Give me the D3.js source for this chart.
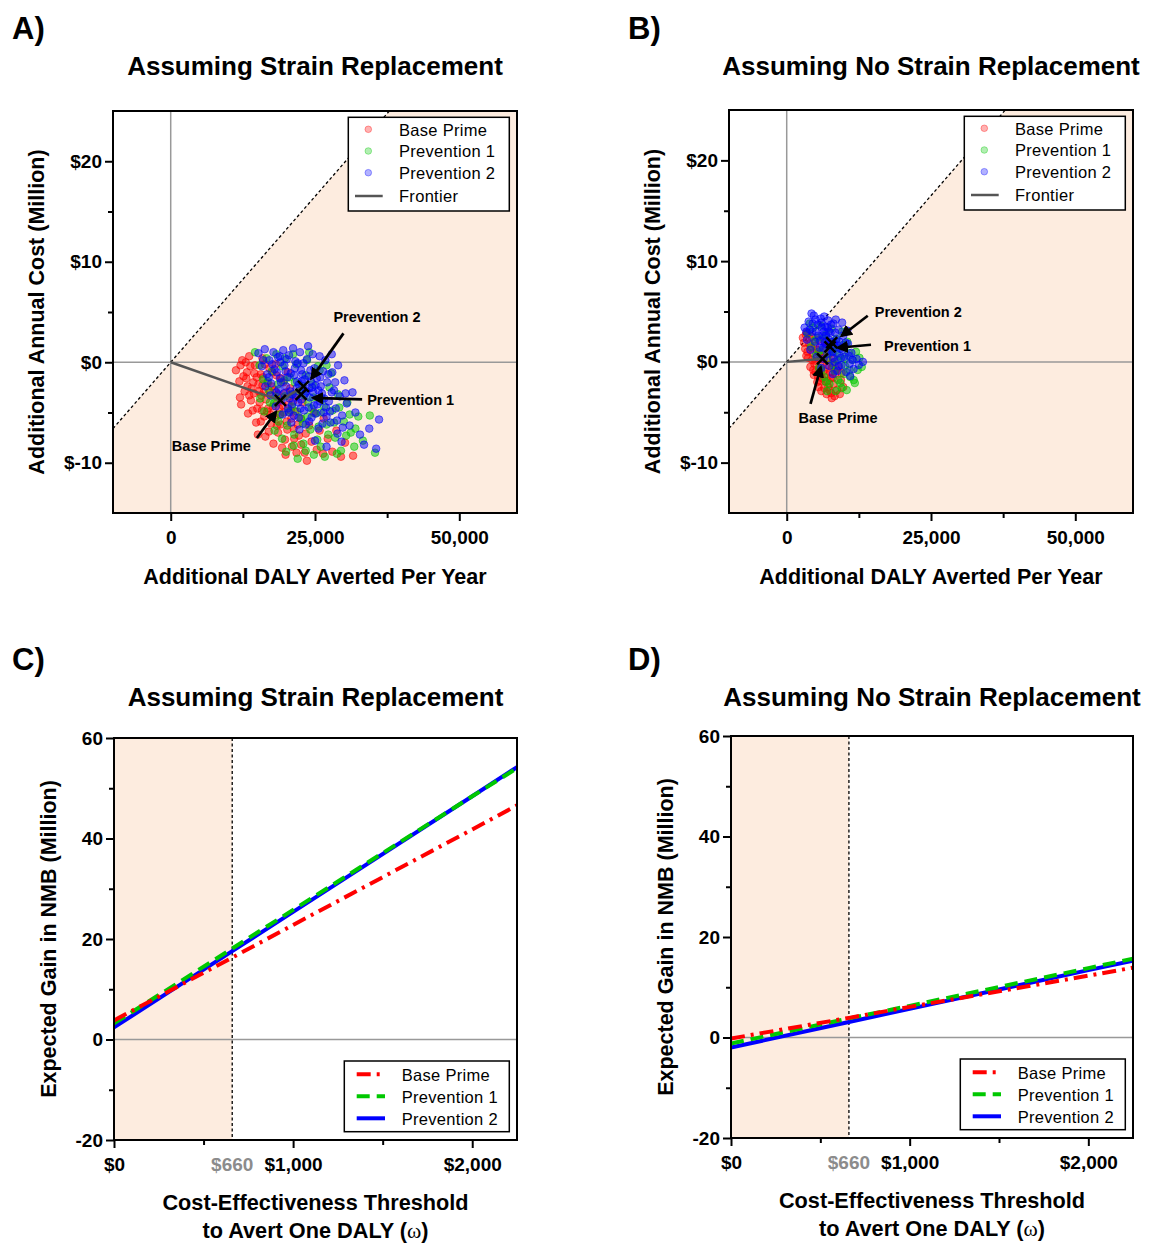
<!DOCTYPE html>
<html>
<head>
<meta charset="utf-8">
<script src="https://cdn.jsdelivr.net/npm/d3@7"></script>
<style>
  body { margin: 0; background: #fff; }
  text { font-family: Arial, "Liberation Sans", sans-serif; }
</style>
</head>
<body>
<div id="chart"></div>
<script>
// ---- data ----
const seriesNames = ["Base Prime", "Prevention 1", "Prevention 2"];
const threshold = 660; // $ per DALY averted

const dalyTicks = [0, 25, 50];        // thousands of DALY
const dalyMinor = [12.5, 37.5];
const costTicks = [-10, 0, 10, 20];   // $ million
const costMinor = [-5, 5, 15];
const omegaTicks = [0, 1000, 2000];
const omegaMinor = [500, 1500];
const nmbTicks = [-20, 0, 20, 40, 60];
const nmbMinor = [-10, 10, 30, 50];

// scatter clouds: [DALY averted (thousands), additional cost ($M)]
const cloudA_base = [[11.3,-0.8],[11.9,-1.9],[12.4,0.2],[12.8,-2.9],[13.2,-1.0],[13.6,0.6],[13.9,-3.8],[14.3,-2.0],[14.6,-0.3],[15.0,-4.6],
  [15.3,-2.9],[15.6,-1.2],[15.9,0.4],[16.2,-5.4],[16.5,-3.7],[16.8,-2.1],[17.1,-0.6],[17.4,-6.1],[17.7,-4.4],[18.0,-2.8],
  [18.3,-1.3],[18.6,-7.0],[18.9,-5.2],[19.2,-3.5],[19.5,-2.0],[19.8,-7.7],[20.1,-5.9],[20.4,-4.2],[20.7,-2.6],[21.0,-8.4],
  [21.3,-6.6],[21.6,-4.9],[21.9,-3.3],[22.2,-7.3],[22.5,-5.6],[22.8,-4.0],[23.2,-9.0],[23.6,-9.8],[24.0,-6.3],[24.4,-7.9],
  [24.8,-5.0],[25.3,-8.7],[25.8,-6.8],[26.4,-9.1],[27.2,-7.6],[28.0,-8.9],[29.5,-9.4],[31.6,-9.3],[16.4,-7.4],[14.8,-6.0],
  [13.4,-5.1],[12.2,-4.2],[17.8,-8.1],[19.9,-9.2],[18.2,-0.2],[20.3,-1.0],[15.1,-7.2],[21.8,-9.0],[12.0,-3.5],[26.5,-5.6],
  [28.7,-6.8],[30.2,-8.0],[14.0,-2.6],[15.7,-3.3],[16.9,-4.6],[17.5,-2.4],[18.5,-4.0],[19.0,-6.2],[20.0,-3.0],[13.1,-1.6],
  [12.6,-1.4],[13.3,-2.4],[13.8,-0.4],[14.4,-3.1],[14.9,-1.5],[15.4,-4.0],[15.9,-2.3],[16.3,-0.2],[16.7,-4.9],[17.2,-3.0],
  [17.6,-1.0],[18.1,-5.5],[18.6,-3.2],[19.1,-1.6],[19.6,-5.0],[20.2,-6.7],[20.8,-4.8],[21.4,-7.6],[22.0,-6.2],[22.6,-8.2],
  [23.4,-7.1],[19.3,-8.5],[17.0,-6.9],[15.6,-5.9],[14.2,-4.8],[13.0,0.0],[12.1,-0.3],[16.1,-3.0],[18.8,-4.6],[20.5,-3.4],
  [14.5,-1.1],[15.2,-2.2],[16.0,-1.5],[17.3,-5.2],[18.4,-6.3],[19.4,-4.3],[20.9,-5.6],[21.2,-3.9],[13.6,-3.3],[15.8,-4.8]];
const cloudA_prev1 = [[14.6,1.0],[15.4,-0.3],[16.0,-1.7],[16.6,0.4],[17.0,-2.8],[17.5,-0.9],[17.9,-4.1],[18.3,0.8],[18.6,-2.2],[19.0,-5.2],
  [19.4,-0.4],[19.8,-3.4],[20.2,-6.3],[20.6,-1.5],[21.0,-4.4],[21.4,-7.2],[21.8,-0.2],[22.2,-2.9],[22.6,-5.6],[23.0,-8.1],
  [23.4,-1.3],[23.8,-4.0],[24.2,-6.7],[24.6,-2.2],[25.0,-5.1],[25.4,-7.7],[25.8,-0.8],[26.2,-3.6],[26.7,-9.4],[27.0,-6.2],
  [27.5,-2.5],[28.0,-4.8],[28.5,-7.5],[29.0,-3.2],[29.5,-8.8],[30.0,-5.9],[30.6,-4.0],[31.2,-7.0],[31.8,-8.4],[32.5,-5.4],
  [33.3,-7.8],[34.5,-5.3],[35.4,-9.0],[20.0,-8.9],[22.0,-9.6],[24.8,-9.2],[18.0,-6.8],[16.2,-4.9],[15.5,-3.6],[21.2,0.8],
  [23.6,0.2],[25.5,-0.4],[27.8,-1.1],[19.3,-7.6],[21.5,-2.0],[23.1,-3.3],[24.4,-4.6],[26.0,-5.0],[20.4,-4.9],[22.9,-6.1],
  [16.8,-1.9],[18.2,-3.4],[19.7,-1.8],[20.9,-3.2],[21.9,-4.9],[22.8,-2.4],[23.7,-5.4],[24.7,-3.5],[25.6,-6.4],[26.6,-4.4],
  [27.3,-7.2],[28.3,-6.0],[29.2,-4.5],[30.4,-7.3],[32.0,-6.6],[26.0,-8.4],[23.4,-8.8],[21.3,-8.3],[18.7,-5.9],[17.2,-4.0],
  [28.8,-9.1],[31.0,-5.2],[27.0,-0.3],[24.0,1.0],[19.8,0.4]];
const cloudA_prev2 = [[15.2,0.9],[15.8,-0.4],[16.3,1.3],[16.7,-1.2],[17.1,0.2],[17.4,-2.1],[17.8,1.0],[18.0,-0.7],[18.3,-3.0],[18.6,0.5],
  [18.9,-1.6],[19.2,-3.8],[19.5,1.2],[19.7,-0.3],[20.0,-2.4],[20.3,-4.6],[20.5,0.7],[20.8,-1.1],[21.1,-3.2],[21.3,-5.3],
  [21.6,0.1],[21.9,-1.9],[22.1,-4.0],[22.4,1.0],[22.6,-0.8],[22.9,-2.7],[23.1,-4.8],[23.4,-6.2],[23.6,0.3],[23.9,-1.4],
  [24.1,-3.5],[24.4,-5.5],[24.6,0.8],[24.9,-0.6],[25.1,-2.3],[25.4,-4.2],[25.6,-6.6],[25.9,-1.5],[26.2,-3.1],[26.5,-5.0],
  [26.8,0.2],[27.1,-2.0],[27.4,-3.9],[27.7,-6.0],[28.0,-1.0],[28.3,-2.8],[28.6,-4.6],[28.9,-7.1],[29.3,-3.4],[29.7,-5.3],
  [30.1,-1.8],[30.5,-4.1],[31.0,-6.3],[31.5,-3.0],[32.0,-5.0],[32.8,-7.2],[33.5,-8.2],[34.4,-6.6],[36.1,-5.7],[35.6,-8.6],
  [25.0,-7.8],[27.0,-8.4],[29.6,-7.9],[22.3,-6.7],[20.9,-6.0],[19.4,-5.2],[18.2,-4.4],[17.3,-3.3],[16.4,-2.4],[21.8,-2.6],
  [23.3,-3.1],[24.3,-1.9],[20.6,-3.6],[22.8,-1.2],[25.6,-2.8],[26.4,-0.9],[19.0,0.0],[21.2,1.4],[23.8,1.6],[25.8,0.6],
  [27.9,0.8],[29.0,-0.3],[26.9,-4.5],[24.8,-4.3],[21.5,-0.6],[22.2,-2.2],[23.0,-0.1],[24.0,-2.6],[20.2,-1.5],[22.6,-3.7],
  [17.6,-0.2],[18.4,-1.0],[19.1,-2.0],[19.9,-0.9],[20.7,-2.9],[21.4,-1.3],[22.0,-0.1],[22.7,-1.9],[23.5,-2.9],[24.2,-0.8],
  [24.7,-3.0],[25.3,-1.6],[26.0,-2.4],[26.6,-3.6],[27.3,-1.2],[27.9,-3.0],[28.5,-2.0],[21.0,-4.2],[22.5,-4.6],[23.9,-4.5],
  [25.2,-5.1],[26.3,-6.1],[27.6,-4.9],[20.1,0.3],[18.7,-2.7],[21.7,-3.5],[23.2,-1.7],[24.5,-2.5],[25.9,-3.9],[20.5,-5.0],
  [19.6,-3.1],[22.2,-5.5],[24.0,-5.9],[27.0,-5.4],[28.8,-5.8],[30.3,-3.1],[29.8,-6.5],[18.9,0.6],[17.0,-1.5],[16.0,0.2]];
const meansA = [[19.0,-3.8],[22.6,-3.2],[23.0,-2.4]];
const frontierA = [[0,0],[19.0,-3.8],[23.0,-2.4]];

const cloudB_base = [[2.8,2.4],[3.2,1.3],[3.5,2.9],[3.7,0.4],[3.9,1.8],[4.1,-0.5],[4.3,2.5],[4.5,0.9],[4.7,-1.3],[4.9,1.6],
  [5.1,0.1],[5.3,-2.0],[5.5,2.2],[5.7,-0.7],[5.9,1.0],[6.1,-1.6],[6.3,0.4],[6.5,-2.6],[6.7,1.5],[6.9,-0.3],
  [7.1,-1.9],[7.3,0.8],[7.5,-1.0],[7.7,-3.1],[7.9,-0.1],[8.1,-2.2],[8.4,-1.2],[8.7,-2.8],[9.0,-0.5],[9.4,-1.8],
  [9.8,-2.5],[7.8,-3.6],[6.0,-2.9],[5.0,-1.0],[4.4,0.2],[6.8,-1.2],[8.2,0.3],[9.2,-3.2],[3.4,0.6],[5.6,0.8],
  [6.6,2.0],[7.2,-2.5],[4.8,-0.2],[5.8,-1.9],[6.4,-0.9],[7.6,-1.6],
  [3.0,1.9],[3.6,1.0],[4.0,2.3],[4.6,-0.8],[5.2,1.2],[5.4,-1.4],[6.2,-0.3],[6.6,-1.9],[7.0,0.3],[7.4,-2.8],
  [8.0,-1.6],[8.6,-0.8],[5.5,-2.5],[6.9,-3.2],[8.3,-3.4],[4.2,1.4],[3.3,2.7],[5.9,0.3],[7.8,-0.6],[9.5,-1.1]];
const cloudB_prev1 = [[3.6,2.8],[4.2,1.5],[4.6,3.4],[5.0,0.6],[5.3,2.4],[5.6,-0.6],[5.9,3.6],[6.2,1.2],[6.5,-1.5],[6.8,2.7],
  [7.1,0.2],[7.4,-2.2],[7.7,3.3],[8.0,1.0],[8.3,-0.9],[8.6,2.3],[8.9,-1.8],[9.2,0.6],[9.5,-2.6],[9.8,1.7],
  [10.1,-0.4],[10.4,-2.8],[10.7,0.9],[11.0,-1.5],[11.4,0.2],[11.8,-2.1],[12.3,-0.8],[13.0,-0.5],[7.0,-2.9],[8.5,-2.9],
  [9.6,3.0],[10.5,2.0],[6.0,-0.8],[4.0,3.8],[12.0,1.0],[7.6,1.5],[8.8,0.2],[9.9,-1.2],
  [4.8,2.1],[5.5,1.0],[6.4,2.3],[7.3,0.9],[8.1,-0.3],[9.0,1.4],[10.0,0.3],[10.9,-0.8],[11.6,-1.8],[12.6,0.4],
  [6.8,-2.0],[9.3,-2.1],[8.0,2.0]];
const cloudB_prev2 = [[3.1,3.4],[3.5,2.2],[3.8,4.0],[4.1,1.2],[4.4,3.0],[4.7,4.6],[4.9,2.0],[5.2,0.5],[5.4,3.7],[5.7,1.4],
  [5.9,4.3],[6.2,2.6],[6.4,0.3],[6.7,3.5],[6.9,1.7],[7.2,4.1],[7.4,-0.4],[7.6,2.9],[7.9,1.0],[8.1,3.8],
  [8.3,0.0],[8.6,2.2],[8.8,-0.9],[9.0,3.2],[9.3,1.3],[9.5,-0.3],[9.8,2.6],[10.0,0.5],[10.3,-1.0],[10.6,1.8],
  [10.9,-0.2],[11.2,0.9],[11.6,-0.7],[12.1,0.3],[13.2,0.0],[6.0,-0.6],[7.0,0.8],[8.0,-1.2],[5.0,3.0],[6.5,4.5],
  [8.5,4.2],[9.6,3.9],[10.5,3.1],[4.3,4.8],[11.0,-1.4],[6.6,1.9],[7.8,2.0],[8.9,1.6],[7.3,3.0],[6.1,3.4],
  [4.5,3.8],[5.0,4.2],[5.5,2.6],[6.0,3.9],[6.3,1.4],[6.8,2.6],[7.1,3.4],[7.5,1.2],[7.7,3.7],[8.2,1.8],
  [8.4,2.9],[8.7,0.8],[9.1,2.0],[9.4,0.4],[9.7,1.2],[10.2,1.9],[10.8,0.6],[5.8,2.1],[7.3,2.2],[8.0,0.4],
  [6.4,3.0],[4.0,3.2],[3.4,3.0],[9.0,-0.4],[11.4,0.2],[12.5,-0.3]];
const meansB = [[6.2,0.3],[7.5,1.5],[7.8,1.9]];
const frontierB = [[0,0],[6.2,0.3],[7.8,1.9]];

// expected gain in net monetary benefit ($M) by threshold omega ($/DALY)
const omegaGrid = [0, 660, 1000, 2000, 2250];
const nmbC_base = [3.8, 16.3, 22.8, 41.8, 46.6];
const nmbC_prev1 = [3.2, 18.1, 25.8, 48.4, 54.0];
const nmbC_prev2 = [2.4, 17.6, 25.4, 48.4, 54.2];
const nmbD_base = [-0.2, 3.9, 6.1, 12.3, 13.9];
const nmbD_prev1 = [-1.2, 3.8, 6.3, 13.8, 15.7];
const nmbD_prev2 = [-2.0, 3.1, 5.7, 13.4, 15.3];

// ---- drawing ----
const W = 1156, H = 1243;
const colors = ["#ff0000", "#00c800", "#0000ff"];
const shadeColor = "#fdecdf";
const font = "Arial, 'Liberation Sans', sans-serif";

const svg = d3.select("#chart").append("svg")
    .attr("width", W)
    .attr("height", H);
svg.append("rect").attr("width", W).attr("height", H).attr("fill", "#fff");

const defs = svg.append("defs");
defs.append("marker")
    .attr("id", "arrowhead")
    .attr("viewBox", "0 0 10 10")
    .attr("refX", 8)
    .attr("refY", 5)
    .attr("markerWidth", 4.6)
    .attr("markerHeight", 4.6)
    .attr("orient", "auto")
    .append("path")
    .attr("d", "M0,0 L10,5 L0,10 z")
    .attr("fill", "#000");

function styleAxis(sel, size) {
    sel.select(".domain").remove();
    sel.selectAll(".tick line").attr("stroke", "#000").attr("stroke-width", 2);
    sel.selectAll(".tick text")
        .attr("fill", "#000")
        .style("font-family", font)
        .style("font-size", size + "px")
        .style("font-weight", "bold");
}

function drawAxes(g, x, y, p, xTicks, xMinor, yTicks, yMinor, xFmt, yFmt) {
    g.append("g")
        .attr("transform", `translate(0,${p.h})`)
        .call(d3.axisBottom(x).tickValues(xTicks).tickFormat(xFmt).tickSize(8).tickSizeOuter(0).tickPadding(9.5))
        .call(s => styleAxis(s, 19));
    g.append("g")
        .attr("transform", `translate(0,${p.h})`)
        .call(d3.axisBottom(x).tickValues(xMinor).tickFormat("").tickSize(5).tickSizeOuter(0))
        .call(s => styleAxis(s, 19));
    g.append("g")
        .call(d3.axisLeft(y).tickValues(yTicks).tickFormat(yFmt).tickSize(8).tickSizeOuter(0).tickPadding(3))
        .call(s => styleAxis(s, 19));
    g.append("g")
        .call(d3.axisLeft(y).tickValues(yMinor).tickFormat("").tickSize(5).tickSizeOuter(0))
        .call(s => styleAxis(s, 19));
    g.append("rect")
        .attr("width", p.w).attr("height", p.h)
        .attr("fill", "none").attr("stroke", "#000").attr("stroke-width", 2);
}

function headings(p, cfg) {
    svg.append("text")
        .attr("x", cfg.letterX).attr("y", cfg.letterY)
        .style("font-size", "31px").style("font-weight", "bold")
        .text(cfg.letter + ")");
    svg.append("text")
        .attr("x", p.x + p.w / 2).attr("y", cfg.letterY + 36)
        .attr("text-anchor", "middle")
        .style("font-size", "26px").style("font-weight", "bold")
        .text(cfg.title);
    svg.append("text")
        .attr("transform", `translate(${p.x - cfg.yTitleOff},${p.y + p.h / 2}) rotate(-90)`)
        .attr("text-anchor", "middle")
        .style("font-size", "21.5px").style("font-weight", "bold")
        .text(cfg.yTitle);
}

function scatterPanel(p, cfg) {
    const g = svg.append("g").attr("transform", `translate(${p.x},${p.y})`);
    const x = d3.scaleLinear().domain([-10, 60]).range([0, p.w]);
    const y = d3.scaleLinear().domain([-15, 25]).range([p.h, 0]);

    const clipId = "clip" + cfg.letter;
    defs.append("clipPath").attr("id", clipId)
        .append("rect").attr("width", p.w).attr("height", p.h);
    const plot = g.append("g").attr("clip-path", `url(#${clipId})`);

    // acceptable region below the threshold line
    const slope = threshold / 1000;
    const [x0, x1] = x.domain(), [y0, y1] = y.domain();
    const xTop = y1 / slope;
    const shade = [[x0, y0], [x0, x0 * slope], [xTop, y1], [x1, y1], [x1, y0]];
    const line = d3.line().x(d => x(d[0])).y(d => y(d[1]));
    plot.append("path").attr("d", line(shade) + "Z").attr("fill", shadeColor);

    plot.append("line")
        .attr("x1", x(0)).attr("x2", x(0)).attr("y1", 0).attr("y2", p.h)
        .attr("stroke", "#999").attr("stroke-width", 1.5);
    plot.append("line")
        .attr("x1", 0).attr("x2", p.w).attr("y1", y(0)).attr("y2", y(0))
        .attr("stroke", "#999").attr("stroke-width", 1.5);
    plot.append("path")
        .attr("d", line([[x0, x0 * slope], [xTop, y1]]))
        .attr("stroke", "#000").attr("stroke-width", 1.3)
        .attr("stroke-dasharray", "3,2.5").attr("fill", "none");

    cfg.clouds.forEach((pts, i) => {
        plot.append("g").selectAll("circle")
            .data(pts)
            .join("circle")
            .attr("cx", d => x(d[0]))
            .attr("cy", d => y(d[1]))
            .attr("r", 3.8)
            .attr("fill", colors[i])
            .attr("fill-opacity", 0.5)
            .attr("stroke", colors[i])
            .attr("stroke-opacity", 0.55)
            .attr("stroke-width", 1);
    });

    plot.append("path")
        .attr("d", line(cfg.frontier))
        .attr("stroke", "#555").attr("stroke-width", 2.5).attr("fill", "none");

    cfg.means.forEach(d => {
        const cx = x(d[0]), cy = y(d[1]), s = 5.5;
        g.append("path")
            .attr("d", `M${cx - s},${cy - s}L${cx + s},${cy + s}M${cx - s},${cy + s}L${cx + s},${cy - s}`)
            .attr("stroke", "#000").attr("stroke-width", 2.5);
    });

    cfg.notes.forEach(n => {
        const m = cfg.means[n.i];
        const cx = x(m[0]), cy = y(m[1]);
        g.append("line")
            .attr("x1", cx + n.tail[0]).attr("y1", cy + n.tail[1])
            .attr("x2", cx + n.tip[0]).attr("y2", cy + n.tip[1])
            .attr("stroke", "#000").attr("stroke-width", 2.7)
            .attr("marker-end", "url(#arrowhead)");
        g.append("text")
            .attr("x", cx + n.text[0]).attr("y", cy + n.text[1])
            .attr("text-anchor", n.anchor)
            .style("font-size", "14.5px").style("font-weight", "bold")
            .text(seriesNames[n.i]);
    });

    drawAxes(g, x, y, p, dalyTicks, dalyMinor, costTicks, costMinor,
        d => d3.format(",")(d * 1000), d => "$" + d);

    g.append("text")
        .attr("x", p.w / 2).attr("y", p.h + 71)
        .attr("text-anchor", "middle")
        .style("font-size", "21.5px").style("font-weight", "bold")
        .text("Additional DALY Averted Per Year");

    // legend
    const lg = g.append("g").attr("transform", `translate(${p.w - 168.7},6.3)`);
    lg.append("rect").attr("width", 161).attr("height", 93.7)
        .attr("fill", "#fff").attr("stroke", "#000").attr("stroke-width", 1.5);
    seriesNames.forEach((name, i) => {
        const cy = 12 + i * 21.7;
        lg.append("circle").attr("cx", 20).attr("cy", cy).attr("r", 3.3)
            .attr("fill", colors[i]).attr("fill-opacity", 0.3)
            .attr("stroke", colors[i]).attr("stroke-opacity", 0.35);
        lg.append("text").attr("x", 50.7).attr("y", cy + 6.5)
            .style("font-size", "16.5px").style("letter-spacing", "0.3px").text(name);
    });
    lg.append("line").attr("x1", 6.7).attr("x2", 34.4).attr("y1", 78.7).attr("y2", 78.7)
        .attr("stroke", "#555").attr("stroke-width", 2.5);
    lg.append("text").attr("x", 50.7).attr("y", 78.7 + 6.5)
        .style("font-size", "16.5px").style("letter-spacing", "0.3px").text("Frontier");

    headings(p, cfg);
}

function nmbPanel(p, cfg) {
    const g = svg.append("g").attr("transform", `translate(${p.x},${p.y})`);
    const x = d3.scaleLinear().domain([0, 2250]).range([0, p.w]);
    const y = d3.scaleLinear().domain([-20, 60]).range([p.h, 0]);

    const clipId = "clip" + cfg.letter;
    defs.append("clipPath").attr("id", clipId)
        .append("rect").attr("width", p.w).attr("height", p.h);
    const plot = g.append("g").attr("clip-path", `url(#${clipId})`);

    plot.append("rect")
        .attr("x", x(0)).attr("width", x(threshold) - x(0))
        .attr("y", 0).attr("height", p.h)
        .attr("fill", shadeColor);
    plot.append("line")
        .attr("x1", 0).attr("x2", p.w).attr("y1", y(0)).attr("y2", y(0))
        .attr("stroke", "#999").attr("stroke-width", 1.5);
    plot.append("line")
        .attr("x1", x(threshold)).attr("x2", x(threshold)).attr("y1", 0).attr("y2", p.h)
        .attr("stroke", "#000").attr("stroke-width", 1.3).attr("stroke-dasharray", "3,2.5");

    const dashes = ["14,6,3,6", "13,7", null];
    const line = d3.line().x((d, i) => x(omegaGrid[i])).y(d => y(d));
    [2, 1, 0].forEach(i => {
        plot.append("path")
            .attr("d", line(cfg.series[i]))
            .attr("fill", "none")
            .attr("stroke", colors[i])
            .attr("stroke-width", 4)
            .attr("stroke-dasharray", dashes[i]);
    });

    drawAxes(g, x, y, p, omegaTicks, omegaMinor, nmbTicks, nmbMinor,
        d => "$" + d3.format(",")(d), d => d);

    // threshold label on the x axis
    g.append("text")
        .attr("x", x(threshold)).attr("y", p.h + 8 + 9.5)
        .attr("dy", "0.71em")
        .attr("text-anchor", "middle")
        .attr("fill", "#8c8c8c")
        .style("font-size", "19px").style("font-weight", "bold")
        .text("$" + threshold);

    const xt = g.append("text")
        .attr("text-anchor", "middle")
        .style("font-size", "21.7px").style("font-weight", "bold");
    xt.append("tspan").attr("x", p.w / 2).attr("y", p.h + 70).text("Cost-Effectiveness Threshold");
    const l2 = xt.append("tspan").attr("x", p.w / 2).attr("y", p.h + 98);
    l2.append("tspan").text("to Avert One DALY (");
    l2.append("tspan").style("font-family", "'Liberation Serif', 'DejaVu Serif', serif")
        .style("font-weight", "normal").text("ω");
    l2.append("tspan").text(")");

    // legend
    const lg = g.append("g").attr("transform", `translate(${p.w - 172.7},${p.h - 8.3 - 70.7})`);
    lg.append("rect").attr("width", 165).attr("height", 70.7)
        .attr("fill", "#fff").attr("stroke", "#000").attr("stroke-width", 1.5);
    seriesNames.forEach((name, i) => {
        const cy = 13.3 + i * 22;
        lg.append("line").attr("x1", 12.4).attr("x2", 40.7).attr("y1", cy).attr("y2", cy)
            .attr("stroke", colors[i]).attr("stroke-width", 4)
            .attr("stroke-dasharray", dashes[i]);
        lg.append("text").attr("x", 57.4).attr("y", cy + 6.5)
            .style("font-size", "16.5px").style("letter-spacing", "0.3px").text(name);
    });

    headings(p, cfg);
}

scatterPanel({ x: 113, y: 111, w: 404, h: 402 }, {
    letter: "A", letterX: 12, letterY: 39,
    title: "Assuming Strain Replacement",
    yTitle: "Additional Annual Cost (Million)", yTitleOff: 69,
    clouds: [cloudA_base, cloudA_prev1, cloudA_prev2],
    means: meansA, frontier: frontierA,
    notes: [
        { i: 2, tip: [8, -8], tail: [40, -53], text: [30, -64], anchor: "start" },
        { i: 1, tip: [12, 3.5], tail: [61, 5], text: [66, 10.5], anchor: "start" },
        { i: 0, tip: [-4.5, 11.5], tail: [-23.5, 37.5], text: [-29.5, 50.5], anchor: "end" }
    ]
});

scatterPanel({ x: 729, y: 110, w: 404, h: 403 }, {
    letter: "B", letterX: 628, letterY: 39,
    title: "Assuming No Strain Replacement",
    yTitle: "Additional Annual Cost (Million)", yTitleOff: 69,
    clouds: [cloudB_base, cloudB_prev1, cloudB_prev2],
    means: meansB, frontier: frontierB,
    notes: [
        { i: 2, tip: [10, -7], tail: [36, -27], text: [43, -26], anchor: "start" },
        { i: 1, tip: [8, 1], tail: [41, -2], text: [54, 4.5], anchor: "start" },
        { i: 0, tip: [-1.8, 8.5], tail: [-12, 45], text: [15.5, 64.5], anchor: "middle" }
    ]
});

nmbPanel({ x: 114, y: 738, w: 403, h: 402 }, {
    letter: "C", letterX: 12, letterY: 670,
    title: "Assuming Strain Replacement",
    yTitle: "Expected Gain in NMB (Million)", yTitleOff: 58,
    series: [nmbC_base, nmbC_prev1, nmbC_prev2]
});

nmbPanel({ x: 731, y: 736, w: 402, h: 402 }, {
    letter: "D", letterX: 628, letterY: 670,
    title: "Assuming No Strain Replacement",
    yTitle: "Expected Gain in NMB (Million)", yTitleOff: 58,
    series: [nmbD_base, nmbD_prev1, nmbD_prev2]
});
</script>
</body>
</html>
